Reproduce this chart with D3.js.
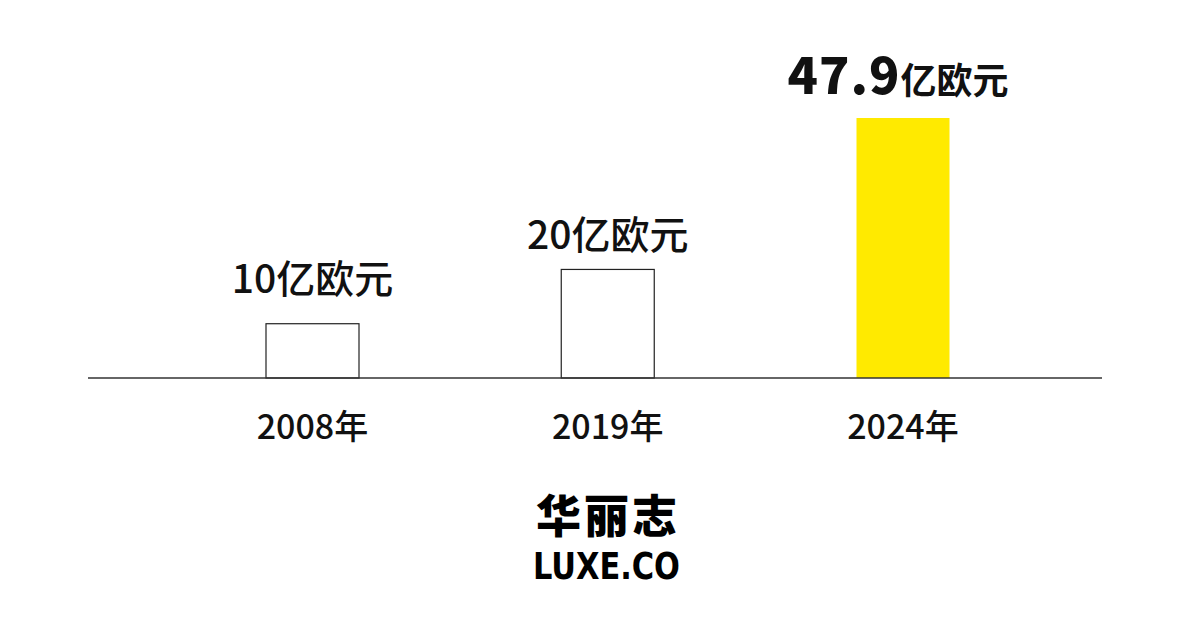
<!DOCTYPE html>
<html><head><meta charset="utf-8">
<script src="https://cdn.jsdelivr.net/npm/d3@7/dist/d3.min.js"></script>
<style>html,body{margin:0;padding:0;background:#fff;}svg{display:block;}</style>
</head><body>
<svg id="chart" width="1200" height="626"></svg>
<script>
const years = ["2008年", "2019年", "2024年"];
const values = [10, 20, 47.9];
const valueNumbers = ["10", "20", "47.9"];
const unit = "亿欧元";

const W = 1200, H = 626;
const svg = d3.select("#chart");
const font = "'Noto Sans CJK SC', 'Noto Sans', sans-serif";

const x = d3.scalePoint().domain(years).range([312.5, 903]);
const y = d3.scaleLinear().domain([0, 47.9]).range([378, 118]);
const barW = 93;
const labelLift = [31, 20, 24];

// bars
svg.selectAll("rect.bar").data(values).enter().append("rect")
  .attr("class", "bar")
  .attr("x", (d, i) => x(years[i]) - barW / 2)
  .attr("y", d => y(d))
  .attr("width", barW)
  .attr("height", d => y(0) - y(d))
  .attr("fill", (d, i) => i === 2 ? "#FFEA00" : "#fff")
  .attr("stroke", (d, i) => i === 2 ? "none" : "#222")
  .attr("stroke-width", 1.2);

// axis line
svg.append("line").attr("x1", 88).attr("x2", 1102)
  .attr("y1", y(0)).attr("y2", y(0))
  .attr("stroke", "#333").attr("stroke-width", 1.5);

// year labels
svg.selectAll("text.year").data(years).enter().append("text")
  .attr("class", "year")
  .attr("x", d => x(d))
  .attr("y", 439)
  .attr("text-anchor", "middle")
  .attr("font-family", font)
  .attr("font-size", 34)
  .attr("font-weight", 500)
  .attr("fill", "#111")
  .text(d => d);

// value labels
values.forEach((v, i) => {
  const t = svg.append("text")
    .attr("x", x(years[i]) + (i === 2 ? -5 : 0))
    .attr("y", y(v) - labelLift[i])
    .attr("text-anchor", "middle")
    .attr("font-family", font)
    .attr("fill", "#111");
  if (i === 2) {
    t.append("tspan").attr("font-size", 50).attr("font-weight", 900)
      .attr("letter-spacing", 1).text(valueNumbers[i]);
    t.append("tspan").attr("font-size", 36).attr("font-weight", 700).text(unit);
  } else {
    t.attr("font-size", 39).attr("font-weight", 500).text(valueNumbers[i] + unit);
  }
});

// logo
svg.append("text").attr("x", 608).attr("y", 533)
  .attr("text-anchor", "middle")
  .attr("font-family", font).attr("font-size", 45).attr("font-weight", 900)
  .attr("letter-spacing", 3)
  .attr("fill", "#000").text("华丽志");
svg.append("text").attr("x", 533).attr("y", 579)
  .attr("font-family", "'Liberation Sans Narrow', 'DejaVu Sans Condensed', sans-serif")
  .attr("font-size", 38).attr("font-weight", 700)
  .attr("textLength", 147).attr("lengthAdjust", "spacingAndGlyphs")
  .attr("fill", "#000").text("LUXE.CO");
</script>
</body></html>
